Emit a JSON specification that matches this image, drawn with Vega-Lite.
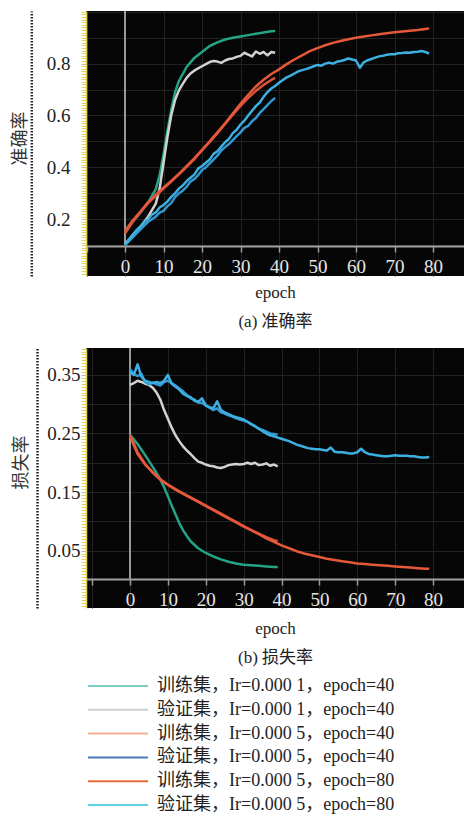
{
  "$schema": "https://vega.github.io/schema/vega-lite/v6.json",
  "padding": {"left": 11, "top": 2, "right": 0, "bottom": 0},
  "background": "white",
  "datasets": {
    "names": [
      {"s": "t1", "name": "训练集，Ir=0.000 1，epoch=40"},
      {"s": "v1", "name": "验证集，Ir=0.000 1，epoch=40"},
      {"s": "t5", "name": "训练集，Ir=0.000 5，epoch=40"},
      {"s": "v5", "name": "验证集，Ir=0.000 5，epoch=40"},
      {"s": "t8", "name": "训练集，Ir=0.000 5，epoch=80"},
      {"s": "v8", "name": "验证集，Ir=0.000 5，epoch=80"}
    ],
    "acc": [
      {"s":"t1","e":0,"v":0.155},{"s":"t1","e":2,"v":0.19},{"s":"t1","e":4,"v":0.225},{"s":"t1","e":6,"v":0.265},{"s":"t1","e":8,"v":0.316},{"s":"t1","e":9,"v":0.37},{"s":"t1","e":10,"v":0.45},{"s":"t1","e":11,"v":0.54},{"s":"t1","e":12,"v":0.62},{"s":"t1","e":13,"v":0.69},{"s":"t1","e":14,"v":0.733},{"s":"t1","e":16,"v":0.787},{"s":"t1","e":18,"v":0.822},{"s":"t1","e":20,"v":0.845},{"s":"t1","e":22,"v":0.868},{"s":"t1","e":24,"v":0.882},{"s":"t1","e":26,"v":0.893},{"s":"t1","e":28,"v":0.9},{"s":"t1","e":30,"v":0.905},{"s":"t1","e":32,"v":0.91},{"s":"t1","e":34,"v":0.915},{"s":"t1","e":36,"v":0.92},{"s":"t1","e":38,"v":0.925},{"s":"t1","e":39,"v":0.926},
      {"s":"v1","e":0,"v":0.105},{"s":"v1","e":1,"v":0.12},{"s":"v1","e":2,"v":0.14},{"s":"v1","e":3,"v":0.155},{"s":"v1","e":4,"v":0.17},{"s":"v1","e":5,"v":0.19},{"s":"v1","e":6,"v":0.21},{"s":"v1","e":7,"v":0.235},{"s":"v1","e":8,"v":0.26},{"s":"v1","e":9,"v":0.318},{"s":"v1","e":10,"v":0.417},{"s":"v1","e":11,"v":0.515},{"s":"v1","e":12,"v":0.6},{"s":"v1","e":13,"v":0.66},{"s":"v1","e":14,"v":0.697},{"s":"v1","e":15,"v":0.722},{"s":"v1","e":16,"v":0.745},{"s":"v1","e":17,"v":0.762},{"s":"v1","e":18,"v":0.773},{"s":"v1","e":19,"v":0.782},{"s":"v1","e":20,"v":0.79},{"s":"v1","e":21,"v":0.798},{"s":"v1","e":22,"v":0.806},{"s":"v1","e":23,"v":0.81},{"s":"v1","e":24,"v":0.808},{"s":"v1","e":25,"v":0.803},{"s":"v1","e":26,"v":0.812},{"s":"v1","e":27,"v":0.818},{"s":"v1","e":28,"v":0.82},{"s":"v1","e":29,"v":0.826},{"s":"v1","e":30,"v":0.83},{"s":"v1","e":31,"v":0.842},{"s":"v1","e":32,"v":0.835},{"s":"v1","e":33,"v":0.828},{"s":"v1","e":34,"v":0.847},{"s":"v1","e":35,"v":0.838},{"s":"v1","e":36,"v":0.845},{"s":"v1","e":37,"v":0.832},{"s":"v1","e":38,"v":0.845},{"s":"v1","e":39,"v":0.842},
      {"s":"t5","e":0,"v":0.145},{"s":"t5","e":2,"v":0.19},{"s":"t5","e":4,"v":0.228},{"s":"t5","e":6,"v":0.262},{"s":"t5","e":8,"v":0.29},{"s":"t5","e":10,"v":0.318},{"s":"t5","e":12,"v":0.345},{"s":"t5","e":14,"v":0.373},{"s":"t5","e":16,"v":0.402},{"s":"t5","e":18,"v":0.432},{"s":"t5","e":20,"v":0.465},{"s":"t5","e":22,"v":0.498},{"s":"t5","e":24,"v":0.532},{"s":"t5","e":26,"v":0.567},{"s":"t5","e":28,"v":0.603},{"s":"t5","e":30,"v":0.637},{"s":"t5","e":32,"v":0.668},{"s":"t5","e":34,"v":0.695},{"s":"t5","e":36,"v":0.718},{"s":"t5","e":38,"v":0.737},{"s":"t5","e":39,"v":0.745},
      {"s":"v5","e":0,"v":0.1},{"s":"v5","e":1,"v":0.115},{"s":"v5","e":2,"v":0.13},{"s":"v5","e":3,"v":0.145},{"s":"v5","e":4,"v":0.16},{"s":"v5","e":5,"v":0.175},{"s":"v5","e":6,"v":0.19},{"s":"v5","e":7,"v":0.2},{"s":"v5","e":8,"v":0.21},{"s":"v5","e":9,"v":0.225},{"s":"v5","e":10,"v":0.232},{"s":"v5","e":11,"v":0.25},{"s":"v5","e":12,"v":0.262},{"s":"v5","e":13,"v":0.285},{"s":"v5","e":14,"v":0.3},{"s":"v5","e":15,"v":0.31},{"s":"v5","e":16,"v":0.325},{"s":"v5","e":17,"v":0.345},{"s":"v5","e":18,"v":0.355},{"s":"v5","e":19,"v":0.37},{"s":"v5","e":20,"v":0.39},{"s":"v5","e":21,"v":0.4},{"s":"v5","e":22,"v":0.415},{"s":"v5","e":23,"v":0.43},{"s":"v5","e":24,"v":0.445},{"s":"v5","e":25,"v":0.465},{"s":"v5","e":26,"v":0.478},{"s":"v5","e":27,"v":0.49},{"s":"v5","e":28,"v":0.505},{"s":"v5","e":29,"v":0.52},{"s":"v5","e":30,"v":0.535},{"s":"v5","e":31,"v":0.552},{"s":"v5","e":32,"v":0.56},{"s":"v5","e":33,"v":0.578},{"s":"v5","e":34,"v":0.59},{"s":"v5","e":35,"v":0.61},{"s":"v5","e":36,"v":0.625},{"s":"v5","e":37,"v":0.64},{"s":"v5","e":38,"v":0.656},{"s":"v5","e":39,"v":0.668},
      {"s":"t8","e":0,"v":0.155},{"s":"t8","e":2,"v":0.195},{"s":"t8","e":4,"v":0.23},{"s":"t8","e":6,"v":0.265},{"s":"t8","e":8,"v":0.295},{"s":"t8","e":10,"v":0.322},{"s":"t8","e":12,"v":0.348},{"s":"t8","e":14,"v":0.375},{"s":"t8","e":16,"v":0.405},{"s":"t8","e":18,"v":0.435},{"s":"t8","e":20,"v":0.468},{"s":"t8","e":22,"v":0.5},{"s":"t8","e":24,"v":0.535},{"s":"t8","e":26,"v":0.57},{"s":"t8","e":28,"v":0.608},{"s":"t8","e":30,"v":0.645},{"s":"t8","e":32,"v":0.68},{"s":"t8","e":34,"v":0.712},{"s":"t8","e":36,"v":0.738},{"s":"t8","e":38,"v":0.76},{"s":"t8","e":40,"v":0.778},{"s":"t8","e":42,"v":0.798},{"s":"t8","e":44,"v":0.816},{"s":"t8","e":46,"v":0.832},{"s":"t8","e":48,"v":0.848},{"s":"t8","e":50,"v":0.86},{"s":"t8","e":52,"v":0.871},{"s":"t8","e":54,"v":0.88},{"s":"t8","e":56,"v":0.887},{"s":"t8","e":58,"v":0.894},{"s":"t8","e":60,"v":0.9},{"s":"t8","e":62,"v":0.905},{"s":"t8","e":64,"v":0.909},{"s":"t8","e":66,"v":0.913},{"s":"t8","e":68,"v":0.917},{"s":"t8","e":70,"v":0.921},{"s":"t8","e":72,"v":0.924},{"s":"t8","e":74,"v":0.927},{"s":"t8","e":76,"v":0.93},{"s":"t8","e":78,"v":0.934},{"s":"t8","e":79,"v":0.936},
      {"s":"v8","e":0,"v":0.1},{"s":"v8","e":1,"v":0.122},{"s":"v8","e":2,"v":0.138},{"s":"v8","e":3,"v":0.158},{"s":"v8","e":4,"v":0.172},{"s":"v8","e":5,"v":0.19},{"s":"v8","e":6,"v":0.2},{"s":"v8","e":7,"v":0.218},{"s":"v8","e":8,"v":0.226},{"s":"v8","e":9,"v":0.245},{"s":"v8","e":10,"v":0.255},{"s":"v8","e":11,"v":0.268},{"s":"v8","e":12,"v":0.286},{"s":"v8","e":13,"v":0.3},{"s":"v8","e":14,"v":0.318},{"s":"v8","e":15,"v":0.33},{"s":"v8","e":16,"v":0.347},{"s":"v8","e":17,"v":0.36},{"s":"v8","e":18,"v":0.372},{"s":"v8","e":19,"v":0.395},{"s":"v8","e":20,"v":0.405},{"s":"v8","e":21,"v":0.418},{"s":"v8","e":22,"v":0.43},{"s":"v8","e":23,"v":0.452},{"s":"v8","e":24,"v":0.462},{"s":"v8","e":25,"v":0.48},{"s":"v8","e":26,"v":0.497},{"s":"v8","e":27,"v":0.51},{"s":"v8","e":28,"v":0.532},{"s":"v8","e":29,"v":0.545},{"s":"v8","e":30,"v":0.565},{"s":"v8","e":31,"v":0.58},{"s":"v8","e":32,"v":0.6},{"s":"v8","e":33,"v":0.618},{"s":"v8","e":34,"v":0.636},{"s":"v8","e":35,"v":0.65},{"s":"v8","e":36,"v":0.672},{"s":"v8","e":37,"v":0.69},{"s":"v8","e":38,"v":0.704},{"s":"v8","e":39,"v":0.714},{"s":"v8","e":40,"v":0.726},{"s":"v8","e":41,"v":0.737},{"s":"v8","e":42,"v":0.747},{"s":"v8","e":43,"v":0.754},{"s":"v8","e":44,"v":0.762},{"s":"v8","e":45,"v":0.77},{"s":"v8","e":46,"v":0.775},{"s":"v8","e":47,"v":0.779},{"s":"v8","e":48,"v":0.784},{"s":"v8","e":49,"v":0.79},{"s":"v8","e":50,"v":0.795},{"s":"v8","e":51,"v":0.792},{"s":"v8","e":52,"v":0.8},{"s":"v8","e":53,"v":0.804},{"s":"v8","e":54,"v":0.8},{"s":"v8","e":55,"v":0.807},{"s":"v8","e":56,"v":0.81},{"s":"v8","e":57,"v":0.814},{"s":"v8","e":58,"v":0.82},{"s":"v8","e":59,"v":0.816},{"s":"v8","e":60,"v":0.812},{"s":"v8","e":61,"v":0.784},{"s":"v8","e":62,"v":0.805},{"s":"v8","e":63,"v":0.813},{"s":"v8","e":64,"v":0.818},{"s":"v8","e":65,"v":0.823},{"s":"v8","e":66,"v":0.828},{"s":"v8","e":67,"v":0.83},{"s":"v8","e":68,"v":0.834},{"s":"v8","e":69,"v":0.836},{"s":"v8","e":70,"v":0.836},{"s":"v8","e":71,"v":0.84},{"s":"v8","e":72,"v":0.841},{"s":"v8","e":73,"v":0.843},{"s":"v8","e":74,"v":0.842},{"s":"v8","e":75,"v":0.845},{"s":"v8","e":76,"v":0.846},{"s":"v8","e":77,"v":0.849},{"s":"v8","e":78,"v":0.845},{"s":"v8","e":79,"v":0.839}
    ],
    "loss": [
      {"s":"t1","e":0,"v":0.248},{"s":"t1","e":2,"v":0.232},{"s":"t1","e":4,"v":0.213},{"s":"t1","e":6,"v":0.193},{"s":"t1","e":8,"v":0.172},{"s":"t1","e":9,"v":0.158},{"s":"t1","e":10,"v":0.143},{"s":"t1","e":11,"v":0.127},{"s":"t1","e":12,"v":0.112},{"s":"t1","e":13,"v":0.097},{"s":"t1","e":14,"v":0.085},{"s":"t1","e":15,"v":0.075},{"s":"t1","e":16,"v":0.066},{"s":"t1","e":18,"v":0.054},{"s":"t1","e":20,"v":0.046},{"s":"t1","e":22,"v":0.04},{"s":"t1","e":24,"v":0.035},{"s":"t1","e":26,"v":0.031},{"s":"t1","e":28,"v":0.028},{"s":"t1","e":30,"v":0.026},{"s":"t1","e":32,"v":0.025},{"s":"t1","e":34,"v":0.024},{"s":"t1","e":36,"v":0.023},{"s":"t1","e":38,"v":0.022},{"s":"t1","e":39,"v":0.022},
      {"s":"v1","e":0,"v":0.333},{"s":"v1","e":1,"v":0.336},{"s":"v1","e":2,"v":0.34},{"s":"v1","e":3,"v":0.338},{"s":"v1","e":4,"v":0.335},{"s":"v1","e":5,"v":0.333},{"s":"v1","e":6,"v":0.328},{"s":"v1","e":7,"v":0.32},{"s":"v1","e":8,"v":0.308},{"s":"v1","e":9,"v":0.29},{"s":"v1","e":10,"v":0.275},{"s":"v1","e":11,"v":0.26},{"s":"v1","e":12,"v":0.247},{"s":"v1","e":13,"v":0.237},{"s":"v1","e":14,"v":0.228},{"s":"v1","e":15,"v":0.221},{"s":"v1","e":16,"v":0.215},{"s":"v1","e":17,"v":0.208},{"s":"v1","e":18,"v":0.202},{"s":"v1","e":19,"v":0.2},{"s":"v1","e":20,"v":0.197},{"s":"v1","e":21,"v":0.195},{"s":"v1","e":22,"v":0.194},{"s":"v1","e":23,"v":0.192},{"s":"v1","e":24,"v":0.191},{"s":"v1","e":25,"v":0.193},{"s":"v1","e":26,"v":0.196},{"s":"v1","e":27,"v":0.197},{"s":"v1","e":28,"v":0.198},{"s":"v1","e":29,"v":0.197},{"s":"v1","e":30,"v":0.198},{"s":"v1","e":31,"v":0.2},{"s":"v1","e":32,"v":0.198},{"s":"v1","e":33,"v":0.2},{"s":"v1","e":34,"v":0.196},{"s":"v1","e":35,"v":0.197},{"s":"v1","e":36,"v":0.199},{"s":"v1","e":37,"v":0.195},{"s":"v1","e":38,"v":0.197},{"s":"v1","e":39,"v":0.194},
      {"s":"t5","e":0,"v":0.248},{"s":"t5","e":2,"v":0.218},{"s":"t5","e":4,"v":0.198},{"s":"t5","e":6,"v":0.183},{"s":"t5","e":8,"v":0.171},{"s":"t5","e":10,"v":0.162},{"s":"t5","e":12,"v":0.154},{"s":"t5","e":14,"v":0.147},{"s":"t5","e":16,"v":0.14},{"s":"t5","e":18,"v":0.133},{"s":"t5","e":20,"v":0.126},{"s":"t5","e":22,"v":0.119},{"s":"t5","e":24,"v":0.112},{"s":"t5","e":26,"v":0.105},{"s":"t5","e":28,"v":0.098},{"s":"t5","e":30,"v":0.091},{"s":"t5","e":32,"v":0.085},{"s":"t5","e":34,"v":0.079},{"s":"t5","e":36,"v":0.073},{"s":"t5","e":38,"v":0.068},{"s":"t5","e":39,"v":0.066},
      {"s":"v5","e":0,"v":0.36},{"s":"v5","e":1,"v":0.352},{"s":"v5","e":2,"v":0.348},{"s":"v5","e":3,"v":0.352},{"s":"v5","e":4,"v":0.338},{"s":"v5","e":5,"v":0.334},{"s":"v5","e":6,"v":0.337},{"s":"v5","e":7,"v":0.334},{"s":"v5","e":8,"v":0.332},{"s":"v5","e":9,"v":0.338},{"s":"v5","e":10,"v":0.34},{"s":"v5","e":11,"v":0.336},{"s":"v5","e":12,"v":0.332},{"s":"v5","e":13,"v":0.327},{"s":"v5","e":14,"v":0.322},{"s":"v5","e":15,"v":0.316},{"s":"v5","e":16,"v":0.31},{"s":"v5","e":17,"v":0.308},{"s":"v5","e":18,"v":0.303},{"s":"v5","e":19,"v":0.302},{"s":"v5","e":20,"v":0.298},{"s":"v5","e":21,"v":0.294},{"s":"v5","e":22,"v":0.29},{"s":"v5","e":23,"v":0.293},{"s":"v5","e":24,"v":0.286},{"s":"v5","e":25,"v":0.284},{"s":"v5","e":26,"v":0.281},{"s":"v5","e":27,"v":0.279},{"s":"v5","e":28,"v":0.276},{"s":"v5","e":29,"v":0.274},{"s":"v5","e":30,"v":0.272},{"s":"v5","e":31,"v":0.27},{"s":"v5","e":32,"v":0.266},{"s":"v5","e":33,"v":0.263},{"s":"v5","e":34,"v":0.258},{"s":"v5","e":35,"v":0.256},{"s":"v5","e":36,"v":0.253},{"s":"v5","e":37,"v":0.25},{"s":"v5","e":38,"v":0.249},{"s":"v5","e":39,"v":0.248},
      {"s":"t8","e":0,"v":0.245},{"s":"t8","e":2,"v":0.215},{"s":"t8","e":4,"v":0.197},{"s":"t8","e":6,"v":0.184},{"s":"t8","e":8,"v":0.172},{"s":"t8","e":10,"v":0.163},{"s":"t8","e":12,"v":0.155},{"s":"t8","e":14,"v":0.148},{"s":"t8","e":16,"v":0.141},{"s":"t8","e":18,"v":0.134},{"s":"t8","e":20,"v":0.127},{"s":"t8","e":22,"v":0.12},{"s":"t8","e":24,"v":0.113},{"s":"t8","e":26,"v":0.106},{"s":"t8","e":28,"v":0.099},{"s":"t8","e":30,"v":0.092},{"s":"t8","e":32,"v":0.085},{"s":"t8","e":34,"v":0.078},{"s":"t8","e":36,"v":0.071},{"s":"t8","e":38,"v":0.065},{"s":"t8","e":40,"v":0.059},{"s":"t8","e":42,"v":0.054},{"s":"t8","e":44,"v":0.049},{"s":"t8","e":46,"v":0.045},{"s":"t8","e":48,"v":0.042},{"s":"t8","e":50,"v":0.039},{"s":"t8","e":52,"v":0.036},{"s":"t8","e":54,"v":0.034},{"s":"t8","e":56,"v":0.032},{"s":"t8","e":58,"v":0.03},{"s":"t8","e":60,"v":0.028},{"s":"t8","e":62,"v":0.027},{"s":"t8","e":64,"v":0.026},{"s":"t8","e":66,"v":0.025},{"s":"t8","e":68,"v":0.024},{"s":"t8","e":70,"v":0.023},{"s":"t8","e":72,"v":0.022},{"s":"t8","e":74,"v":0.021},{"s":"t8","e":76,"v":0.02},{"s":"t8","e":78,"v":0.019},{"s":"t8","e":79,"v":0.019},
      {"s":"v8","e":0,"v":0.355},{"s":"v8","e":1,"v":0.35},{"s":"v8","e":2,"v":0.368},{"s":"v8","e":3,"v":0.347},{"s":"v8","e":4,"v":0.34},{"s":"v8","e":5,"v":0.338},{"s":"v8","e":6,"v":0.336},{"s":"v8","e":7,"v":0.338},{"s":"v8","e":8,"v":0.336},{"s":"v8","e":9,"v":0.34},{"s":"v8","e":10,"v":0.35},{"s":"v8","e":11,"v":0.335},{"s":"v8","e":12,"v":0.33},{"s":"v8","e":13,"v":0.325},{"s":"v8","e":14,"v":0.318},{"s":"v8","e":15,"v":0.314},{"s":"v8","e":16,"v":0.312},{"s":"v8","e":17,"v":0.306},{"s":"v8","e":18,"v":0.304},{"s":"v8","e":19,"v":0.31},{"s":"v8","e":20,"v":0.298},{"s":"v8","e":21,"v":0.295},{"s":"v8","e":22,"v":0.293},{"s":"v8","e":23,"v":0.305},{"s":"v8","e":24,"v":0.29},{"s":"v8","e":25,"v":0.286},{"s":"v8","e":26,"v":0.283},{"s":"v8","e":27,"v":0.28},{"s":"v8","e":28,"v":0.278},{"s":"v8","e":29,"v":0.276},{"s":"v8","e":30,"v":0.274},{"s":"v8","e":31,"v":0.27},{"s":"v8","e":32,"v":0.266},{"s":"v8","e":33,"v":0.262},{"s":"v8","e":34,"v":0.258},{"s":"v8","e":35,"v":0.254},{"s":"v8","e":36,"v":0.25},{"s":"v8","e":37,"v":0.247},{"s":"v8","e":38,"v":0.245},{"s":"v8","e":39,"v":0.243},{"s":"v8","e":40,"v":0.241},{"s":"v8","e":41,"v":0.239},{"s":"v8","e":42,"v":0.237},{"s":"v8","e":43,"v":0.234},{"s":"v8","e":44,"v":0.231},{"s":"v8","e":45,"v":0.229},{"s":"v8","e":46,"v":0.227},{"s":"v8","e":47,"v":0.225},{"s":"v8","e":48,"v":0.224},{"s":"v8","e":49,"v":0.223},{"s":"v8","e":50,"v":0.223},{"s":"v8","e":51,"v":0.222},{"s":"v8","e":52,"v":0.221},{"s":"v8","e":53,"v":0.226},{"s":"v8","e":54,"v":0.219},{"s":"v8","e":55,"v":0.218},{"s":"v8","e":56,"v":0.218},{"s":"v8","e":57,"v":0.217},{"s":"v8","e":58,"v":0.216},{"s":"v8","e":59,"v":0.216},{"s":"v8","e":60,"v":0.218},{"s":"v8","e":61,"v":0.224},{"s":"v8","e":62,"v":0.218},{"s":"v8","e":63,"v":0.215},{"s":"v8","e":64,"v":0.214},{"s":"v8","e":65,"v":0.213},{"s":"v8","e":66,"v":0.212},{"s":"v8","e":67,"v":0.211},{"s":"v8","e":68,"v":0.211},{"s":"v8","e":69,"v":0.212},{"s":"v8","e":70,"v":0.213},{"s":"v8","e":71,"v":0.212},{"s":"v8","e":72,"v":0.212},{"s":"v8","e":73,"v":0.212},{"s":"v8","e":74,"v":0.211},{"s":"v8","e":75,"v":0.211},{"s":"v8","e":76,"v":0.21},{"s":"v8","e":77,"v":0.209},{"s":"v8","e":78,"v":0.209},{"s":"v8","e":79,"v":0.21}
    ]
  },
  "spacing": 10,
  "vconcat": [
    {
      "width": 378,
      "height": 265,
      "layer": [
        {
          "data": {"values": [{}]},
          "mark": {"type": "rule", "color": "#9a9a9a", "strokeWidth": 2},
          "encoding": {
            "x": {"datum": 0, "type": "quantitative", "scale": {"domain": [-10.13, 88.05], "nice": false, "zero": false}},
            "y": {"datum": 0.1, "type": "quantitative", "scale": {"domain": [-0.019, 1.003], "nice": false, "zero": false},
              "axis": {"orient": "left", "offset": 54.7, "title": "准确率", "titleY": 127, "titleFont": "Noto Sans CJK SC", "titleFontSize": 18, "titleColor": "#333", "titlePadding": 2, "domainColor": "#222", "domainDash": [1.5, 1.5], "domainWidth": 2.5, "ticks": false, "labels": false, "grid": true, "values": [0.1, 0.2, 0.3, 0.4, 0.5, 0.6, 0.7, 0.8, 0.9, 1.0], "gridColor": "#222222", "gridWidth": 1}},
            "y2": {"datum": 1.003}
          }
        },
        {
          "data": {"name": "acc"},
          "mark": {"type": "line", "strokeWidth": 2.5, "strokeJoin": "round"},
          "encoding": {
            "x": {"field": "e", "type": "quantitative", "axis": {"offset": -30, "title": ["epoch", "(a) 准确率"]}},
            "y": {"field": "v", "type": "quantitative",
              "axis": {"orient": "left", "title": null, "tickCount": 100, "labelExpr": "indexof(['0.20','0.40','0.60','0.80'], format(datum.value, '.2f')) >= 0 ? format(datum.value, '.1f') : ''", "domainColor": "#e3d45a", "domainWidth": 1.5, "tickColor": {"condition": {"test": "indexof(['0.20','0.40','0.60','0.80'], format(datum.value, '.2f')) >= 0", "value": "#b8b8c8"}, "value": "#e3d45a"}, "tickSize": 5, "tickWidth": 1, "labelPadding": 11, "grid": false}},
            "stroke": {"field": "s", "type": "nominal", "legend": null,
              "scale": {"domain": ["t1", "v1", "t5", "v5", "t8", "v8"],
                "range": ["#25a386", "#d2d2d2", "#d9533a", "#3596d0", "#e5583a", "#3db0e2"]}}
          }
        }
      ],
      "resolve": {"axis": {"y": "independent"}}
    },
    {
      "width": 378,
      "height": 260,
      "layer": [
        {
          "data": {"values": [{}]},
          "mark": {"type": "rule", "color": "#9a9a9a", "strokeWidth": 2},
          "encoding": {
            "x": {"datum": 0, "type": "quantitative", "scale": {"domain": [-11.62, 88.18], "nice": false, "zero": false}},
            "y": {"datum": 0, "type": "quantitative", "scale": {"domain": [-0.048, 0.396], "nice": false, "zero": false},
              "axis": {"orient": "left", "offset": 49, "title": "损失率", "titleY": 114, "titleFont": "Noto Sans CJK SC", "titleFontSize": 18, "titleColor": "#333", "titlePadding": 7, "domainColor": "#222", "domainDash": [1.5, 1.5], "domainWidth": 2.5, "ticks": false, "labels": false, "grid": true, "values": [0.05, 0.1, 0.15, 0.2, 0.25, 0.3, 0.35], "gridColor": "#222222", "gridWidth": 1}},
            "y2": {"datum": 0.396}
          }
        },
        {
          "data": {"name": "loss"},
          "mark": {"type": "line", "strokeWidth": 2.5, "strokeJoin": "round"},
          "encoding": {
            "x": {"field": "e", "type": "quantitative", "axis": {"offset": -29, "title": ["epoch", "(b) 损失率"], "titlePadding": 11}},
            "y": {"field": "v", "type": "quantitative",
              "axis": {"orient": "left", "title": null, "tickCount": 90, "labelExpr": "indexof(['0.050','0.150','0.250','0.350'], format(datum.value, '.3f')) >= 0 ? format(datum.value, '.2f') : ''", "domainColor": "#e3d45a", "domainWidth": 1.5, "tickColor": {"condition": {"test": "indexof(['0.050','0.150','0.250','0.350'], format(datum.value, '.3f')) >= 0", "value": "#b8b8c8"}, "value": "#e3d45a"}, "tickSize": 5, "tickWidth": 1, "labelPadding": 1, "grid": false}},
            "stroke": {"field": "s", "type": "nominal", "legend": null}
          }
        },
        {
          "data": {"name": "loss"},
          "transform": [{"lookup": "s", "from": {"data": {"name": "names"}, "key": "s", "fields": ["name"]}}],
          "mark": {"type": "line", "opacity": 0},
          "encoding": {
            "x": {"field": "e", "type": "quantitative"},
            "y": {"field": "v", "type": "quantitative", "axis": null},
            "color": {"field": "name", "type": "nominal",
              "scale": {"domain": ["训练集，Ir=0.000 1，epoch=40", "验证集，Ir=0.000 1，epoch=40", "训练集，Ir=0.000 5，epoch=40", "验证集，Ir=0.000 5，epoch=40", "训练集，Ir=0.000 5，epoch=80", "验证集，Ir=0.000 5，epoch=80"],
                "range": ["#7dcdc6", "#cfcfcf", "#f4b092", "#4a78b5", "#ea6a36", "#5fd0e2"]},
              "legend": {"orient": "none", "legendX": 23, "legendY": 666, "title": null, "direction": "vertical", "symbolType": "M-6,0L6,0", "symbolSize": 100, "symbolStrokeWidth": 2, "symbolOpacity": 1, "labelFont": "Liberation Serif, Noto Sans CJK SC", "labelFontSize": 18, "labelColor": "#222", "rowPadding": 5.8, "labelOffset": 30, "labelLimit": 400}}
          }
        }
      ],
      "resolve": {"axis": {"y": "independent"}}
    }
  ],
  "config": {
    "view": {"fill": "#060606", "stroke": null},
    "axis": {"labelFont": "Liberation Serif", "labelFontSize": 19, "labelColor": "#222", "titleFont": "Liberation Serif, Noto Sans CJK SC", "titleFontWeight": "normal", "labelOverlap": false, "labelFlush": false},
    "axisX": {"values": [-10, 0, 10, 20, 30, 40, 50, 60, 70, 80], "labelExpr": "datum.value < 0 ? '' : datum.label", "labelColor": "#e6e6e6", "labelFontSize": 19, "labelPadding": 5, "tickColor": "#9a9a9a", "tickSize": 6, "tickWidth": 1.5, "domainColor": "#a0a0a0", "domainWidth": 2, "grid": true, "gridColor": "#222222", "gridWidth": 1, "titleFontSize": 17, "titleColor": "#222", "titleLineHeight": 29, "titlePadding": 8}
  }
}
